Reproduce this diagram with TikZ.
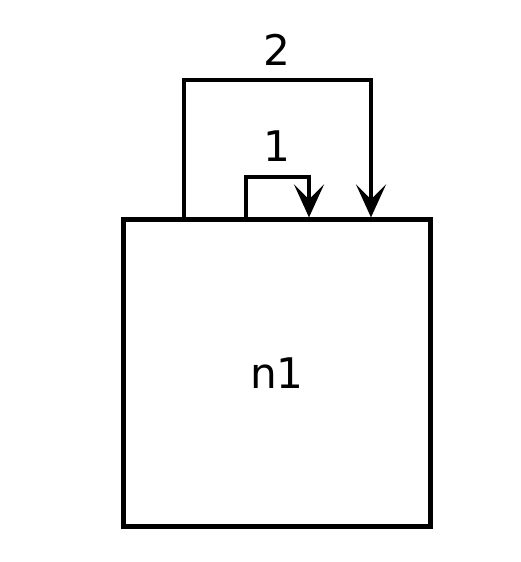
\documentclass[tikz,border=0pt]{standalone}
\usepackage{fontspec}
\setmainfont{DejaVu Sans}
\usetikzlibrary{arrows.meta,positioning,calc}

\begin{document}
\begin{tikzpicture}[
    state/.style={rectangle, draw=black, line width=2.4pt, minimum size=6.14cm,
                  font=\fontsize{24}{28}\selectfont},
    loop/.style={-{Stealth[length=0.66cm, width=0.6cm, inset=0.3cm]}, line width=2.4pt},
    lbl/.style={font=\fontsize{24}{28}\selectfont}
]
    \useasboundingbox (0,0) rectangle (10.4,-11.24);
    \node[state] (n1) at (5.54,-7.46) {n1};

    % inner self loop
    \draw[loop] ([xshift=-0.62cm]n1.north) |- ([xshift=0.64cm,yshift=0.8cm]n1.north)
        -- ([xshift=0.64cm]n1.north);
    \node[lbl] (l1) at ([yshift=1.42cm]n1.north) {1};

    % outer self loop
    \draw[loop] ([xshift=-1.86cm]n1.north) |- ([xshift=1.88cm,yshift=2.74cm]n1.north)
        -- ([xshift=1.88cm]n1.north);
    \node[lbl] (l2) at ([yshift=3.36cm]n1.north) {2};
\end{tikzpicture}
\end{document}
